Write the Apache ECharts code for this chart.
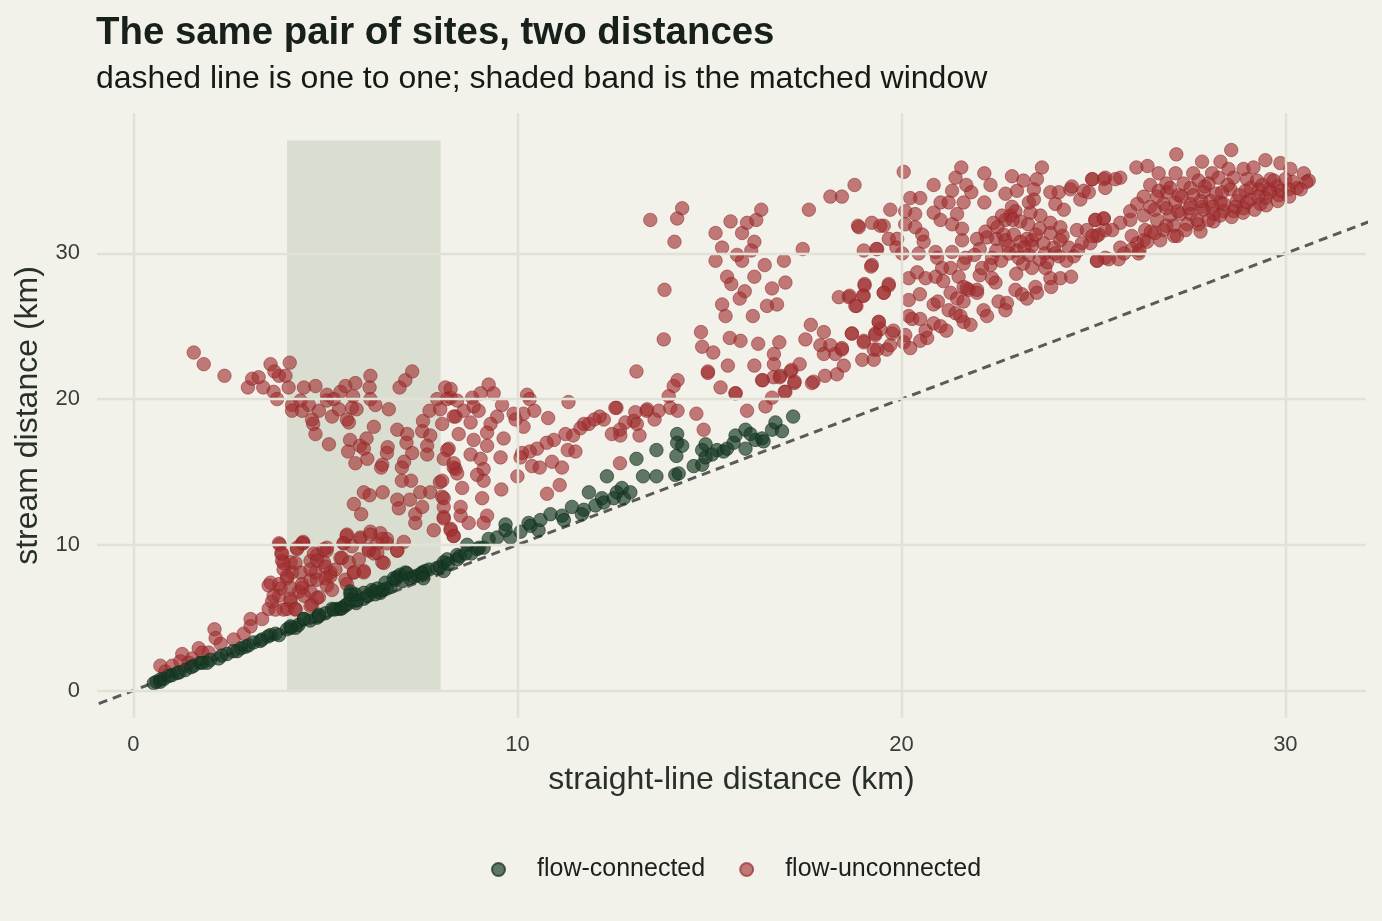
<!DOCTYPE html>
<html>
<head>
<meta charset="utf-8">
<title>The same pair of sites, two distances</title>
<script src="https://cdn.jsdelivr.net/npm/echarts@6/dist/echarts.min.js"></script>
<style>
  html, body { margin: 0; padding: 0; background: #f2f1ea; }
  #chart1 { width: 1382px; height: 921px; }
</style>
</head>
<body>
<div id="chart1"></div>
<script>
// tick positions on both axes
const xTicks = [0, 10, 20, 30];
const yTicks = [0, 10, 20, 30];

// matched window (straight-line km) and its vertical extent
const bandX = [4, 8];
const bandY = [0, 37.75];

// one to one reference line
const oneToOne = [[-2, -2], [34, 34]];

// flow-connected pairs [straight-line km, stream km]
const connected = [
    [0.53, 0.5], [0.6, 0.6], [0.7, 0.75], [0.7, 0.6], [0.8, 0.8], [0.92, 1.0], [1.0, 1.05], [1.14, 1.2],
    [1.2, 1.25], [1.35, 1.4], [1.5, 1.6], [1.57, 1.7], [1.74, 1.9], [1.8, 1.9], [1.92, 1.9], [2.0, 2.1],
    [2.22, 2.2], [2.3, 2.4], [2.44, 2.5], [2.6, 2.7], [2.7, 2.7], [2.8, 2.9], [2.92, 3.0], [3.0, 3.1],
    [3.13, 3.3], [3.3, 3.4], [3.35, 3.5], [3.5, 3.7], [3.57, 3.8], [3.7, 3.9], [3.79, 3.8], [4.0, 4.2],
    [4.1, 4.3], [4.22, 4.3], [4.3, 4.5], [4.44, 4.9], [4.6, 4.8], [4.78, 5.0], [4.83, 5.2], [5.0, 5.3],
    [5.17, 5.6], [5.3, 5.6], [5.39, 5.6], [5.5, 5.8], [5.56, 5.9], [5.65, 6.6], [5.8, 6.0], [5.83, 6.2],
    [6.0, 6.3], [6.1, 6.5], [6.26, 6.8], [6.3, 6.6], [6.43, 6.7], [6.5, 6.9], [6.6, 7.0], [6.7, 7.1],
    [6.82, 7.6], [6.87, 7.8], [7.0, 7.5], [7.08, 8.1], [7.2, 7.7], [7.3, 7.8], [7.4, 7.9], [7.52, 8.1],
    [7.6, 8.2], [7.7, 8.3], [7.9, 8.4], [7.99, 8.5], [8.08, 8.2], [8.08, 8.8], [8.17, 9.0], [8.2, 8.7],
    [8.43, 9.0], [8.43, 9.3], [8.5, 9.2], [8.65, 9.4], [8.69, 10.0], [8.8, 9.4], [8.95, 9.7], [9.0, 9.8],
    [9.12, 9.8], [9.25, 10.4], [9.47, 10.5], [9.69, 11.4], [9.69, 11.0], [9.82, 10.5], [10.08, 10.9],
    [10.29, 11.5], [10.34, 11.3], [10.55, 11.0], [10.6, 11.7], [10.86, 12.1], [11.16, 12.0], [11.21, 11.7],
    [11.42, 12.6], [11.68, 12.1], [11.73, 12.4], [11.86, 13.6], [12.03, 12.7], [12.2, 13.2], [12.25, 12.9],
    [12.33, 14.7], [12.51, 13.2], [12.59, 13.6], [12.72, 13.9], [12.77, 13.2], [12.94, 13.6], [13.1, 15.9],
    [13.27, 14.7], [13.62, 14.7], [13.62, 16.5], [14.11, 14.8], [14.14, 16.1], [14.16, 17.6], [14.16, 17.0],
    [14.2, 14.9], [14.29, 16.8], [14.59, 15.4], [14.81, 15.5], [14.81, 16.5], [14.9, 16.0], [14.9, 16.9],
    [15.07, 16.2], [15.2, 16.5], [15.37, 16.4], [15.46, 16.6], [15.63, 17.0], [15.68, 17.5], [15.94, 17.9],
    [15.94, 16.6], [16.07, 17.6], [16.2, 17.2], [16.37, 17.3], [16.41, 17.1], [16.63, 17.9], [16.72, 18.4],
    [16.89, 17.8], [17.18, 18.8],
    [4.09, 4.4], [4.44, 4.9], [4.83, 5.1], [5.22, 5.55], [5.43, 5.65], [5.65, 6.25], [5.78, 6.6], [6.0, 6.7],
    [6.21, 6.9], [6.35, 7.0], [6.56, 7.4], [6.78, 7.7], [6.95, 7.95], [7.12, 8.05], [7.52, 8.05], [7.55, 7.7],
    [5.65, 6.8]
];

// flow-unconnected pairs [straight-line km, stream km]
const unconnected = [
    [0.7, 1.7], [0.83, 1.3], [1.01, 1.7], [1.22, 2.0], [1.27, 2.5], [1.44, 1.9], [1.53, 2.2], [1.7, 2.9],
    [1.79, 2.6], [1.96, 2.6], [2.11, 4.2], [2.14, 3.6], [2.27, 3.2], [2.61, 3.5], [2.87, 3.9], [3.05, 4.9],
    [3.05, 4.4], [3.35, 4.9], [3.52, 7.2], [3.52, 5.6], [3.61, 6.1], [3.79, 6.5], [3.79, 10.1], [3.81, 10.0],
    [3.83, 7.0], [3.85, 9.4], [3.87, 8.9], [3.91, 8.3], [4.0, 7.7], [4.0, 5.6], [4.09, 8.8], [4.09, 6.3],
    [4.13, 8.1], [4.22, 5.6], [4.26, 9.7], [4.31, 6.8], [4.39, 7.3], [4.42, 10.1], [4.42, 10.2], [4.61, 6.8],
    [4.61, 7.6], [4.61, 8.9], [4.65, 5.9], [4.74, 8.1], [4.78, 9.3], [4.83, 6.4], [4.96, 8.8], [5.0, 7.7],
    [5.03, 9.6], [5.04, 7.2], [5.04, 9.8], [5.13, 8.1], [5.39, 9.1], [5.48, 10.1], [5.52, 7.6], [5.55, 10.6],
    [5.56, 10.7], [5.61, 8.8], [5.74, 8.1], [5.91, 10.4], [5.91, 10.5], [6.0, 8.2], [6.13, 9.7], [6.17, 10.9],
    [6.26, 9.4], [6.35, 10.1], [6.43, 10.8], [6.48, 8.8], [6.6, 10.1], [6.6, 10.4], [6.87, 9.6], [7.04, 10.2],
    [4.39, 10.1], [4.26, 9.8], [3.87, 9.4], [3.91, 8.75], [4.22, 8.75], [4.7, 9.4], [4.96, 9.7], [4.78, 8.9],
    [5.0, 8.5], [4.61, 8.3], [4.35, 8.1], [4.0, 7.85], [3.79, 7.3], [4.09, 7.05], [4.39, 7.05], [4.78, 7.6],
    [5.13, 7.85], [5.26, 8.3], [5.43, 9.1], [5.47, 10.1], [5.69, 9.9], [6.17, 10.7], [6.48, 10.4], [6.13, 9.6],
    [6.35, 9.45], [6.87, 9.6], [6.52, 8.75], [5.87, 9.0], [5.74, 8.1], [6.0, 8.1], [5.56, 7.3], [5.17, 6.9],
    [4.78, 6.35], [4.44, 6.5], [4.09, 6.1], [3.91, 5.55], [4.22, 5.55], [4.61, 5.8], [3.65, 6.5], [3.7, 5.55],
    [3.57, 7.4],
    [1.57, 23.2], [1.83, 22.4], [2.37, 21.6], [2.98, 20.8], [3.09, 21.4], [3.26, 21.5], [3.38, 20.8],
    [3.57, 22.4], [3.67, 21.9], [3.79, 21.6], [3.96, 21.6], [4.07, 22.5], [3.65, 20.5], [3.74, 20.0],
    [4.04, 20.8], [4.13, 19.6], [4.13, 19.2], [4.35, 19.9], [4.44, 20.8], [4.57, 19.6], [4.39, 19.2],
    [4.65, 18.6], [4.74, 20.9], [4.83, 19.2], [4.68, 18.3], [4.74, 17.6], [5.04, 20.3], [5.04, 19.9],
    [5.22, 20.0], [5.17, 18.8], [5.35, 19.3], [5.39, 20.5], [5.52, 20.9], [5.78, 21.1], [5.72, 20.2],
    [5.69, 19.4], [5.81, 19.3], [5.56, 18.6], [5.61, 18.4], [6.17, 21.6], [6.15, 20.8], [6.17, 20.0],
    [6.3, 19.6], [6.65, 19.3], [6.26, 18.1], [6.87, 17.9], [5.64, 17.2], [5.59, 16.4], [5.09, 16.9],
    [5.9, 16.8], [6.07, 17.3], [6.0, 16.6], [6.09, 15.9], [5.78, 15.6], [6.48, 15.5], [6.45, 15.3],
    [6.62, 16.7], [6.6, 16.3], [6.93, 20.8], [7.08, 21.3], [7.26, 21.9], [7.13, 17.6], [7.11, 17.0],
    [7.26, 16.3], [7.05, 15.7], [6.99, 15.3], [6.99, 14.4], [7.23, 14.4], [7.54, 18.5], [7.52, 17.8],
    [7.71, 19.2], [7.73, 17.5], [7.65, 16.8], [7.65, 16.2], [7.91, 20.0], [8.12, 20.8], [7.99, 19.3],
    [8.04, 18.3], [8.26, 20.1], [8.39, 18.8], [8.08, 15.9], [8.21, 16.6], [8.34, 15.3], [7.98, 14.3],
    [7.47, 13.6], [7.73, 13.6], [8.04, 13.3], [8.08, 12.6], [8.08, 11.9], [7.34, 12.1], [7.34, 11.5],
    [7.82, 11.0], [8.26, 11.1], [8.34, 10.6], [6.87, 13.1], [6.91, 12.5], [7.2, 13.1], [7.52, 12.6],
    [6.0, 13.6], [6.15, 13.4], [6.49, 13.6], [5.74, 12.8], [5.93, 12.1],
    [13.1, 21.9], [14.96, 21.8], [14.17, 21.3], [14.07, 20.9], [13.94, 20.2], [13.98, 19.4], [14.17, 19.2],
    [15.29, 20.8], [15.68, 20.4], [16.37, 21.3], [16.67, 21.5], [16.85, 21.6], [17.11, 21.9], [17.21, 21.1],
    [16.98, 20.5], [16.63, 20.1], [16.46, 19.5], [15.98, 19.2], [14.66, 19.0], [14.85, 17.9], [13.36, 19.2],
    [13.68, 19.2], [13.57, 18.6], [13.07, 19.1], [13.03, 18.5], [13.11, 18.3], [13.18, 17.5], [12.81, 18.4],
    [12.67, 17.9], [12.68, 17.5], [12.46, 17.6], [12.58, 19.4], [12.25, 18.6], [12.14, 18.8], [12.0, 18.6],
    [11.86, 18.3], [11.73, 18.3], [11.64, 18.0], [11.45, 17.5], [11.25, 17.6], [11.31, 16.5], [11.51, 16.4],
    [11.33, 19.8], [10.95, 17.2], [10.76, 17.0], [10.51, 16.6], [10.32, 16.4], [10.12, 16.3], [10.08, 16.0],
    [10.38, 15.4], [10.58, 15.3], [10.9, 15.7], [11.16, 15.3], [11.1, 14.1], [10.77, 13.5], [10.0, 14.7],
    [9.58, 13.8], [12.67, 15.6], [10.8, 18.7], [10.25, 20.3], [10.32, 20.0], [10.44, 19.2], [10.16, 19.0],
    [10.16, 18.1], [9.9, 19.0], [9.95, 18.6], [9.6, 19.6], [9.64, 17.3], [9.47, 18.8], [9.38, 20.4],
    [9.25, 21.0], [9.04, 20.4], [8.82, 20.1], [8.86, 19.5], [8.99, 19.2], [8.6, 19.2], [8.78, 18.4],
    [9.3, 18.3], [9.21, 17.7], [8.86, 17.2], [8.47, 17.6], [9.21, 16.8], [8.78, 16.2], [9.04, 15.9],
    [9.56, 16.0], [9.12, 15.2], [8.95, 14.8], [9.12, 14.4], [8.39, 15.2], [8.43, 14.9], [8.17, 16.5],
    [8.34, 15.6], [8.56, 13.9], [9.08, 13.2], [9.21, 12.0], [9.12, 11.5], [8.73, 11.5], [8.52, 12.6],
    [8.52, 12.0], [8.08, 11.8], [8.26, 11.0], [8.34, 10.6], [8.08, 13.2], [8.04, 14.4], [8.26, 20.7],
    [8.17, 20.0], [8.43, 19.9], [8.34, 18.8], [12.55, 19.4], [13.38, 19.3],
    [13.46, 32.3], [14.16, 32.4], [14.29, 33.1], [14.09, 30.8], [13.83, 27.5], [13.81, 24.1], [15.16, 31.4],
    [15.33, 30.4], [15.16, 29.5], [15.55, 32.2], [15.85, 31.4], [15.98, 32.1], [16.22, 32.3], [16.35, 33.0],
    [16.17, 30.8], [16.09, 30.2], [15.72, 29.9], [15.85, 29.5], [16.44, 29.2], [16.94, 29.5], [15.46, 28.4],
    [15.57, 27.9], [16.17, 28.4], [15.92, 27.4], [15.79, 26.9], [15.33, 26.5], [15.42, 25.7], [16.13, 25.7],
    [16.63, 27.6], [16.98, 28.0], [16.5, 26.4], [16.76, 26.5], [17.43, 30.3], [17.59, 33.0], [18.15, 33.9],
    [18.45, 33.9], [14.78, 24.6], [14.81, 23.6], [15.1, 23.2], [15.53, 24.2], [15.81, 24.0], [14.96, 21.9],
    [15.48, 22.3], [15.68, 20.4], [16.27, 23.8], [16.82, 23.9], [16.68, 23.1], [16.68, 22.4], [16.17, 22.3],
    [16.83, 21.5], [16.39, 21.3], [17.14, 22.0], [17.35, 22.4], [17.22, 21.2], [16.96, 20.5], [17.64, 25.1],
    [17.98, 24.6], [17.5, 24.1], [17.89, 23.7], [18.15, 23.7], [17.98, 23.1], [18.28, 23.1], [18.45, 23.4],
    [18.5, 22.3], [18.32, 21.7], [18.01, 21.6], [17.71, 21.2], [17.67, 21.1], [18.71, 24.5], [19.02, 24.0],
    [18.98, 22.7], [19.28, 22.7], [19.28, 23.4], [19.41, 25.3], [19.32, 24.5], [19.62, 23.4], [19.76, 24.5],
    [18.37, 27.0], [18.63, 27.0], [18.83, 26.4], [19.02, 27.1], [19.04, 27.9], [19.54, 27.3], [19.67, 27.9],
    [19.23, 29.2], [19.02, 30.2], [19.37, 30.3], [18.87, 31.9], [19.23, 32.1], [19.54, 31.9], [19.71, 33.0],
    [19.67, 31.0],
    [20.06, 35.6], [18.78, 34.7], [20.84, 34.7], [21.41, 35.2], [21.56, 35.9], [21.69, 34.7], [21.82, 34.2],
    [22.16, 35.5], [22.32, 34.7], [22.16, 33.5], [21.32, 34.3], [21.62, 33.5], [20.23, 33.8], [20.49, 33.8],
    [21.02, 33.5], [21.23, 33.5], [20.1, 32.9], [20.36, 32.7], [20.84, 32.8], [21.02, 32.3], [21.45, 32.7],
    [19.45, 31.9], [18.89, 31.8], [20.1, 32.0], [20.36, 31.8], [21.32, 32.0], [21.58, 31.7], [19.89, 31.0],
    [20.54, 31.3], [20.58, 30.8], [21.58, 30.9], [21.97, 31.0], [19.87, 30.4], [20.02, 30.0], [20.45, 30.0],
    [19.35, 30.3], [19.21, 29.1], [20.89, 30.1], [20.93, 29.7], [21.32, 30.1], [21.67, 29.7], [21.62, 29.3],
    [21.06, 29.0], [21.28, 29.0], [20.19, 28.3], [20.41, 28.7], [20.63, 28.3], [20.89, 28.4], [21.09, 28.1],
    [21.49, 28.4], [22.04, 28.5], [22.45, 28.0], [22.36, 28.3], [19.04, 27.8], [19.67, 27.8], [19.54, 27.3],
    [18.65, 27.1], [19.0, 27.1], [18.8, 26.4], [20.48, 27.2], [20.19, 26.8], [20.84, 26.5], [20.95, 26.7],
    [21.28, 27.3], [21.45, 26.9], [21.62, 27.7], [21.76, 27.5], [21.97, 27.5], [21.23, 26.1], [21.41, 25.9],
    [21.62, 26.7], [21.62, 25.3], [21.8, 25.1], [21.54, 25.7], [22.14, 26.1], [22.23, 25.7], [22.53, 26.7],
    [22.75, 26.6], [22.71, 26.1], [22.97, 27.5], [23.14, 27.2], [23.27, 26.9], [23.49, 27.7], [23.53, 27.3],
    [23.88, 28.3], [23.9, 27.7], [24.14, 28.3], [24.42, 28.4], [23.75, 29.0], [23.4, 29.0], [22.99, 28.6],
    [23.17, 29.3], [23.05, 29.7], [23.32, 29.9], [22.36, 29.7], [22.32, 29.2], [22.47, 30.2], [22.04, 30.3],
    [22.19, 31.5], [22.4, 32.1], [22.23, 31.1], [22.47, 31.0], [22.66, 31.3], [22.71, 30.9], [22.79, 30.5],
    [22.93, 31.3], [23.1, 30.8], [23.27, 31.0], [23.4, 30.9], [23.4, 30.5], [23.7, 30.7], [23.74, 30.0],
    [23.97, 30.4], [24.1, 29.8], [24.14, 30.9], [24.36, 30.4], [24.49, 29.8], [23.88, 31.4], [23.88, 32.1],
    [24.14, 31.8], [23.62, 32.6], [23.36, 32.8], [23.1, 32.2], [22.97, 32.9], [22.84, 32.6], [22.71, 32.3],
    [22.62, 32.6], [22.88, 33.2], [22.71, 34.1], [23.01, 34.3], [22.88, 35.3], [23.18, 35.0], [23.32, 33.5],
    [23.45, 33.7], [23.45, 34.4], [23.53, 35.1], [23.66, 35.9], [23.88, 34.2], [24.01, 33.4], [24.1, 34.2],
    [24.23, 33.0], [24.4, 34.4], [24.44, 34.6], [24.66, 33.7], [24.75, 34.3], [24.88, 34.2], [24.97, 35.1],
    [25.27, 35.1], [24.57, 31.6], [24.83, 31.6], [25.05, 32.3], [25.27, 32.4], [25.09, 31.2], [25.31, 31.6],
    [24.7, 30.7], [24.92, 30.7], [25.09, 29.5], [25.31, 29.7], [20.84, 25.2], [21.02, 25.0], [21.17, 24.7],
    [20.19, 25.7], [20.28, 25.5], [20.49, 25.5], [20.63, 24.7], [20.67, 24.2], [20.49, 24.0], [20.1, 24.4],
    [20.06, 23.9], [20.23, 23.5], [19.79, 24.7], [19.71, 23.7], [19.45, 24.8], [19.41, 25.3], [19.32, 24.4],
    [19.37, 23.4], [19.02, 23.9], [18.71, 24.5], [18.45, 23.5], [21.7, 27.6], [21.97, 27.3],
    [21.9, 29.9], [22.1, 29.0], [22.6, 29.5], [22.8, 30.0], [23.0, 30.2], [23.2, 30.4], [23.5, 31.3],
    [23.6, 29.6], [23.8, 29.4], [24.0, 30.0], [24.2, 31.2], [24.3, 29.5], [24.6, 30.2], [22.5, 31.8],
    [22.9, 32.3], [23.3, 32.0], [23.6, 31.7],
    [27.16, 36.8], [28.59, 37.1], [26.12, 35.9], [26.41, 36.0], [26.7, 35.5], [27.14, 35.5], [27.6, 35.5],
    [27.83, 36.3], [28.31, 36.3], [28.09, 35.5], [28.52, 35.8], [28.91, 35.8], [29.17, 35.9], [29.48, 36.4],
    [29.87, 36.2], [30.13, 35.8], [30.48, 35.5], [30.61, 35.0], [30.3, 34.5], [30.09, 34.4], [26.48, 34.7],
    [26.9, 34.8], [27.35, 34.8], [26.31, 33.9], [26.66, 33.9], [26.92, 34.2], [27.22, 34.0], [27.53, 34.5],
    [27.74, 35.0], [28.0, 34.8], [28.26, 35.2], [28.65, 35.2], [29.0, 35.1], [29.26, 35.0], [29.61, 35.1],
    [29.79, 34.6], [29.57, 34.4], [29.31, 34.4], [28.96, 34.3], [28.57, 34.4], [28.35, 34.2], [27.87, 34.2],
    [26.14, 33.4], [25.96, 32.9], [26.48, 33.2], [26.83, 33.4], [27.14, 33.5], [27.53, 33.4], [27.83, 33.2],
    [28.05, 33.6], [28.31, 33.5], [28.74, 33.6], [29.09, 33.7], [29.48, 33.8], [29.83, 34.0], [26.31, 32.6],
    [26.66, 32.3], [27.0, 32.6], [27.27, 32.7], [27.53, 32.7], [27.87, 33.0], [28.13, 32.7], [28.39, 32.9],
    [28.65, 32.9], [28.91, 33.1], [29.35, 33.4], [27.09, 31.9], [27.44, 32.0], [27.74, 32.0], [28.13, 32.2],
    [26.83, 31.6], [26.74, 30.9], [27.18, 31.2], [26.35, 31.6], [26.31, 30.9], [26.14, 30.7], [26.01, 30.3],
    [26.18, 30.0], [25.7, 30.4], [25.66, 29.6], [25.4, 29.6], [25.1, 29.5], [25.96, 32.3], [25.7, 32.1],
    [25.49, 31.6], [25.27, 32.4], [25.05, 32.3], [25.14, 31.3], [24.97, 31.2], [24.97, 35.1], [25.31, 35.2],
    [25.7, 35.2], [25.31, 34.5], [25.57, 35.1], [27.79, 31.5],
    [26.5, 31.5], [26.6, 33.0], [26.7, 34.3], [26.9, 31.9], [26.9, 33.1], [27.0, 34.5], [27.1, 31.2],
    [27.2, 32.9], [27.3, 33.9], [27.4, 31.6], [27.5, 33.1], [27.6, 34.0], [27.7, 32.3], [27.8, 33.6],
    [27.9, 34.6], [28.0, 32.3], [28.1, 33.2], [28.2, 34.1], [28.3, 32.6], [28.4, 33.4], [28.5, 34.7],
    [28.6, 32.5], [28.7, 33.2], [28.8, 34.0], [28.9, 32.8], [29.0, 33.5], [29.1, 34.5], [29.2, 33.0],
    [29.3, 33.9], [29.4, 34.7], [29.5, 33.3], [29.6, 34.2], [29.7, 35.0], [29.8, 33.6], [29.9, 34.3],
    [30.0, 35.1], [30.1, 33.9], [30.2, 34.9], [30.4, 34.4], [30.55, 34.9], [26.2, 30.2], [26.4, 30.8],
    [26.0, 31.2], [25.8, 30.0], [26.6, 31.4]
];

let dom1 = document.getElementById("chart1");
let Chart1 = echarts.init(dom1);

const red = 'rgba(160,46,48,0.78)';
const green = 'rgba(22,56,36,0.84)';

let option1 = {
    animation: false,
    backgroundColor: '#f2f1ea',
    textStyle: { fontFamily: 'Liberation Sans, Arial, sans-serif' },
    title: [{
        text: 'The same pair of sites, two distances',
        left: 96,
        top: 14,
        padding: 0,
        textStyle: { fontSize: 38.4, fontWeight: 'bold', color: '#17201b' }
    }, {
        text: 'dashed line is one to one; shaded band is the matched window',
        left: 96,
        top: 63,
        padding: 0,
        textStyle: { fontSize: 32, fontWeight: 'normal', color: '#151a17' }
    }],
    legend: {
        data: ['flow-connected', 'flow-unconnected'],
        left: 486,
        top: 852,
        icon: 'circle',
        itemWidth: 13,
        itemHeight: 13,
        itemGap: 34,
        textStyle: { fontSize: 25, color: '#1c1f1d', padding: [0, 0, 0, 27] }
    },
    grid: {
        left: 97,
        right: 16,
        top: 113,
        bottom: 203
    },
    xAxis: {
        type: 'value',
        min: -0.95,
        max: 32.1,
        name: 'straight-line distance (km)',
        nameLocation: 'middle',
        nameGap: 46,
        nameTextStyle: { fontSize: 32, color: '#27302b' },
        axisLine: { show: false },
        axisTick: { show: false },
        splitLine: { show: false },
        axisLabel: {
            customValues: xTicks,
            fontSize: 22,
            color: '#3a3d3b',
            margin: 16
        }
    },
    yAxis: {
        type: 'value',
        min: -1.89,
        max: 39.64,
        name: 'stream distance (km)',
        nameLocation: 'middle',
        nameGap: 52,
        nameTextStyle: { fontSize: 32, color: '#27302b' },
        axisLine: { show: false },
        axisTick: { show: false },
        splitLine: { show: false },
        axisLabel: {
            customValues: yTicks,
            fontSize: 22,
            color: '#3a3d3b',
            margin: 17
        }
    },
    series: [
        {
            // gridlines and the matched window
            name: 'frame',
            type: 'scatter',
            data: [],
            z: 1,
            silent: true,
            markLine: {
                silent: true,
                symbol: 'none',
                label: { show: false },
                lineStyle: { color: '#e1e1d6', width: 2.4, type: 'solid' },
                data: xTicks.map(v => ({ xAxis: v })).concat(yTicks.map(v => ({ yAxis: v })))
            },
            markArea: {
                silent: true,
                itemStyle: { color: 'rgba(146,169,130,0.25)' },
                data: [[{ coord: [bandX[0], bandY[0]] }, { coord: [bandX[1], bandY[1]] }]]
            }
        },
        {
            name: 'one to one',
            type: 'line',
            data: oneToOne,
            z: 2,
            silent: true,
            showSymbol: false,
            symbol: 'none',
            clip: true,
            lineStyle: { color: '#5a5a5a', width: 3, type: [9, 6] }
        },
        {
            name: 'flow-unconnected',
            type: 'scatter',
            data: unconnected,
            z: 3,
            symbolSize: 13.5,
            itemStyle: { color: red, borderColor: 'rgba(140,34,36,0.8)', borderWidth: 0.8 }
        },
        {
            name: 'flow-connected',
            type: 'scatter',
            data: connected,
            z: 4,
            symbolSize: 13.5,
            itemStyle: { color: green, borderColor: 'rgba(18,44,28,0.9)', borderWidth: 0.8 }
        }
    ]
};

Chart1.setOption(option1);
</script>
</body>
</html>
